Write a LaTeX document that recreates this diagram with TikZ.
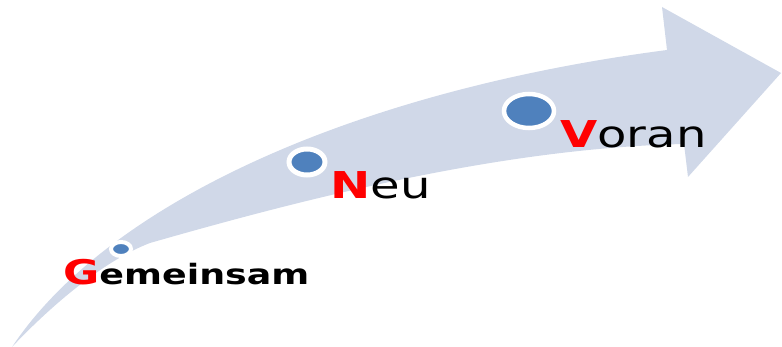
\documentclass[tikz,border=0pt]{standalone}
\usepackage{fontspec}
\newfontfamily\wordfont{DejaVu Sans}[FakeStretch=1.3]
\usetikzlibrary{shapes.geometric}
\definecolor{bandblue}{HTML}{D0D8E8}
\definecolor{spotblue}{HTML}{4F81BD}
\tikzset{
  band/.style={fill=bandblue},
  spot/.style={ellipse, fill=spotblue, draw=white, inner sep=0pt},
  word/.style={anchor=base west, inner sep=0pt, font=\wordfont}
}

\begin{document}
\begin{tikzpicture}[x=1pt, y=-1pt]
  \useasboundingbox (0,0) rectangle (782,347);
  % curved arrow
  \fill[band] (12,347) .. controls (110,200) and (360,90) .. (667,50)
    -- (662,7) -- (781,73) -- (688,177) -- (684,144)
    .. controls (500,148) and (300,200) .. (150,243)
    .. controls (100,262) and (45,312) .. (12,347) -- cycle;
  % dots
  \node[spot, minimum width=20pt, minimum height=14pt, line width=4pt] (dotG) at (121,249) {};
  \node[spot, minimum width=36pt, minimum height=26pt, line width=5pt] (dotN) at (307,162) {};
  \node[spot, minimum width=50pt, minimum height=34pt, line width=4.5pt] (dotV) at (529,111) {};
  % words
  \node[word] (labelG) at (63,285) {\bfseries{\fontsize{34}{36}\selectfont\color{red}G}{\fontsize{28}{30}\selectfont emeinsam}};
  \node[word] (labelN) at (330,199) {\fontsize{37}{40}\selectfont{\bfseries\color{red}N}eu};
  \node[word] (labelV) at (560,148) {\fontsize{37}{40}\selectfont{\bfseries\color{red}V}oran};
\end{tikzpicture}
\end{document}
